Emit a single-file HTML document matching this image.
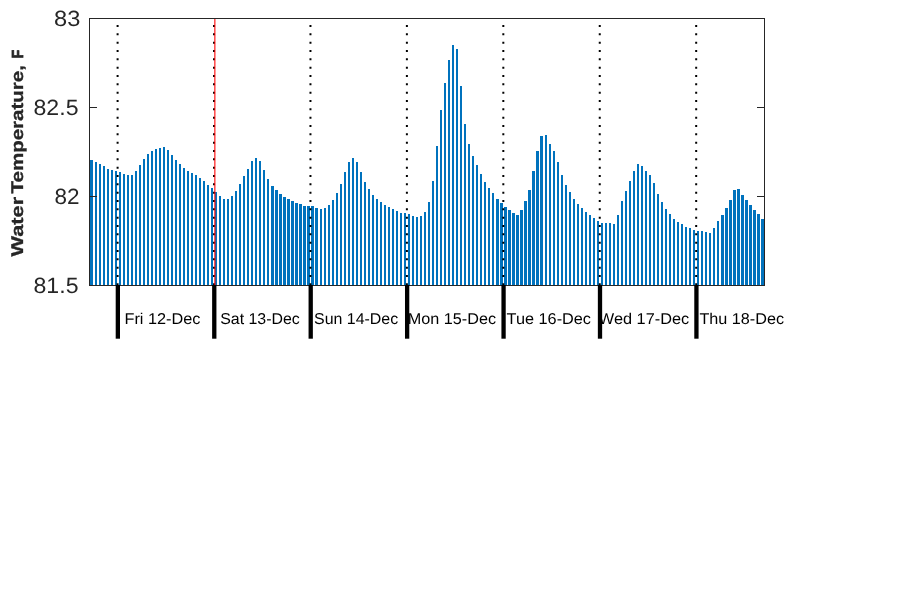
<!DOCTYPE html>
<html><head><meta charset="utf-8"><title>Water Temperature</title>
<style>
html,body{margin:0;padding:0;background:#fff;}
body{width:900px;height:600px;overflow:hidden;font-family:"Liberation Sans",sans-serif;}
svg{display:block;will-change:transform;}
text{font-family:"Liberation Sans",sans-serif;text-rendering:geometricPrecision;}
</style></head>
<body>
<svg width="900" height="600" viewBox="0 0 900 600">
<rect x="0" y="0" width="900" height="600" fill="#ffffff"/>
<g fill="#0072bd" shape-rendering="crispEdges"><rect x="90" y="160" width="3" height="125"/><rect x="95" y="162" width="2" height="123"/><rect x="99" y="164" width="2" height="121"/><rect x="103" y="166" width="2" height="119"/><rect x="107" y="169" width="2" height="116"/><rect x="111" y="170" width="2" height="115"/><rect x="115" y="171" width="2" height="114"/><rect x="119" y="172" width="2" height="113"/><rect x="123" y="174" width="2" height="111"/><rect x="127" y="175" width="2" height="110"/><rect x="131" y="175" width="2" height="110"/><rect x="135" y="171" width="2" height="114"/><rect x="139" y="165" width="2" height="120"/><rect x="143" y="159" width="2" height="126"/><rect x="147" y="154" width="2" height="131"/><rect x="151" y="151" width="2" height="134"/><rect x="155" y="149" width="2" height="136"/><rect x="159" y="148" width="2" height="137"/><rect x="163" y="147" width="2" height="138"/><rect x="167" y="150" width="2" height="135"/><rect x="171" y="155" width="2" height="130"/><rect x="175" y="160" width="2" height="125"/><rect x="179" y="164" width="2" height="121"/><rect x="183" y="168" width="2" height="117"/><rect x="187" y="171" width="2" height="114"/><rect x="191" y="173" width="2" height="112"/><rect x="195" y="175" width="2" height="110"/><rect x="199" y="178" width="2" height="107"/><rect x="203" y="181" width="2" height="104"/><rect x="207" y="185" width="2" height="100"/><rect x="211" y="188" width="2" height="97"/><rect x="215" y="192" width="2" height="93"/><rect x="219" y="196" width="2" height="89"/><rect x="223" y="199" width="2" height="86"/><rect x="227" y="199" width="2" height="86"/><rect x="231" y="196" width="2" height="89"/><rect x="235" y="191" width="2" height="94"/><rect x="239" y="184" width="2" height="101"/><rect x="243" y="176" width="2" height="109"/><rect x="247" y="169" width="2" height="116"/><rect x="251" y="161" width="2" height="124"/><rect x="255" y="158" width="2" height="127"/><rect x="259" y="161" width="2" height="124"/><rect x="263" y="170" width="2" height="115"/><rect x="267" y="179" width="2" height="106"/><rect x="271" y="186" width="3" height="99"/><rect x="275" y="190" width="3" height="95"/><rect x="279" y="194" width="3" height="91"/><rect x="283" y="197" width="3" height="88"/><rect x="287" y="199" width="3" height="86"/><rect x="291" y="201" width="3" height="84"/><rect x="295" y="203" width="3" height="82"/><rect x="299" y="204" width="3" height="81"/><rect x="303" y="206" width="3" height="79"/><rect x="307" y="206" width="3" height="79"/><rect x="311" y="206" width="3" height="79"/><rect x="315" y="208" width="3" height="77"/><rect x="320" y="209" width="2" height="76"/><rect x="324" y="208" width="2" height="77"/><rect x="328" y="205" width="2" height="80"/><rect x="332" y="200" width="2" height="85"/><rect x="336" y="193" width="2" height="92"/><rect x="340" y="184" width="2" height="101"/><rect x="344" y="172" width="2" height="113"/><rect x="348" y="162" width="2" height="123"/><rect x="352" y="158" width="2" height="127"/><rect x="356" y="162" width="2" height="123"/><rect x="360" y="172" width="2" height="113"/><rect x="364" y="182" width="2" height="103"/><rect x="368" y="189" width="2" height="96"/><rect x="372" y="195" width="2" height="90"/><rect x="376" y="199" width="2" height="86"/><rect x="380" y="202" width="2" height="83"/><rect x="384" y="205" width="2" height="80"/><rect x="388" y="207" width="2" height="78"/><rect x="392" y="209" width="2" height="76"/><rect x="396" y="211" width="2" height="74"/><rect x="400" y="213" width="2" height="72"/><rect x="404" y="213" width="2" height="72"/><rect x="408" y="214" width="2" height="71"/><rect x="412" y="216" width="2" height="69"/><rect x="416" y="217" width="2" height="68"/><rect x="420" y="216" width="2" height="69"/><rect x="424" y="212" width="2" height="73"/><rect x="428" y="202" width="2" height="83"/><rect x="432" y="181" width="2" height="104"/><rect x="436" y="146" width="2" height="139"/><rect x="440" y="110" width="2" height="175"/><rect x="444" y="83" width="2" height="202"/><rect x="448" y="60" width="2" height="225"/><rect x="452" y="45" width="2" height="240"/><rect x="456" y="49" width="2" height="236"/><rect x="460" y="86" width="2" height="199"/><rect x="464" y="124" width="2" height="161"/><rect x="468" y="144" width="2" height="141"/><rect x="472" y="156" width="2" height="129"/><rect x="476" y="165" width="2" height="120"/><rect x="480" y="174" width="2" height="111"/><rect x="484" y="182" width="2" height="103"/><rect x="488" y="188" width="2" height="97"/><rect x="492" y="193" width="2" height="92"/><rect x="496" y="199" width="3" height="86"/><rect x="500" y="203" width="3" height="82"/><rect x="504" y="207" width="3" height="78"/><rect x="508" y="210" width="3" height="75"/><rect x="512" y="213" width="3" height="72"/><rect x="516" y="215" width="3" height="70"/><rect x="520" y="210" width="3" height="75"/><rect x="524" y="201" width="3" height="84"/><rect x="528" y="190" width="3" height="95"/><rect x="532" y="171" width="3" height="114"/><rect x="536" y="151" width="3" height="134"/><rect x="540" y="136" width="3" height="149"/><rect x="545" y="135" width="2" height="150"/><rect x="549" y="144" width="2" height="141"/><rect x="553" y="151" width="2" height="134"/><rect x="557" y="162" width="2" height="123"/><rect x="561" y="175" width="2" height="110"/><rect x="565" y="185" width="2" height="100"/><rect x="569" y="192" width="2" height="93"/><rect x="573" y="199" width="2" height="86"/><rect x="577" y="204" width="2" height="81"/><rect x="581" y="208" width="2" height="77"/><rect x="585" y="212" width="2" height="73"/><rect x="589" y="215" width="2" height="70"/><rect x="593" y="218" width="2" height="67"/><rect x="597" y="221" width="2" height="64"/><rect x="601" y="223" width="2" height="62"/><rect x="605" y="223" width="2" height="62"/><rect x="609" y="223" width="2" height="62"/><rect x="613" y="224" width="2" height="61"/><rect x="617" y="215" width="2" height="70"/><rect x="621" y="201" width="2" height="84"/><rect x="625" y="191" width="2" height="94"/><rect x="629" y="181" width="2" height="104"/><rect x="633" y="171" width="2" height="114"/><rect x="637" y="164" width="2" height="121"/><rect x="641" y="166" width="2" height="119"/><rect x="645" y="171" width="2" height="114"/><rect x="649" y="175" width="2" height="110"/><rect x="653" y="183" width="2" height="102"/><rect x="657" y="194" width="2" height="91"/><rect x="661" y="202" width="2" height="83"/><rect x="665" y="209" width="2" height="76"/><rect x="669" y="214" width="2" height="71"/><rect x="673" y="219" width="2" height="66"/><rect x="677" y="222" width="2" height="63"/><rect x="681" y="224" width="2" height="61"/><rect x="685" y="227" width="2" height="58"/><rect x="689" y="228" width="2" height="57"/><rect x="693" y="230" width="2" height="55"/><rect x="697" y="231" width="2" height="54"/><rect x="701" y="231" width="2" height="54"/><rect x="705" y="232" width="2" height="53"/><rect x="709" y="233" width="2" height="52"/><rect x="713" y="228" width="2" height="57"/><rect x="717" y="221" width="2" height="64"/><rect x="721" y="215" width="3" height="70"/><rect x="725" y="208" width="3" height="77"/><rect x="729" y="200" width="3" height="85"/><rect x="733" y="190" width="3" height="95"/><rect x="737" y="189" width="3" height="96"/><rect x="741" y="195" width="3" height="90"/><rect x="745" y="200" width="3" height="85"/><rect x="749" y="205" width="3" height="80"/><rect x="753" y="210" width="3" height="75"/><rect x="757" y="214" width="3" height="71"/><rect x="761" y="219" width="3" height="66"/></g>
<g stroke="#000" stroke-width="2" stroke-dasharray="2 6.3333" stroke-dashoffset="-6.5" fill="none"><line x1="117.60" y1="18.5" x2="117.60" y2="285.5"/><line x1="214.03" y1="18.5" x2="214.03" y2="285.5"/><line x1="310.46" y1="18.5" x2="310.46" y2="285.5"/><line x1="406.89" y1="18.5" x2="406.89" y2="285.5"/><line x1="503.32" y1="18.5" x2="503.32" y2="285.5"/><line x1="599.75" y1="18.5" x2="599.75" y2="285.5"/><line x1="696.18" y1="18.5" x2="696.18" y2="285.5"/></g>
<line x1="214.87" y1="18.5" x2="214.87" y2="285.5" stroke="#ff0000" stroke-width="1.08"/>
<g stroke="#262626" stroke-width="1" fill="none" shape-rendering="crispEdges">
<rect x="89.5" y="18.5" width="675" height="267"/>
<line x1="89.5" y1="107.5" x2="96.8" y2="107.5"/><line x1="757.2" y1="107.5" x2="764.5" y2="107.5"/><line x1="89.5" y1="196.5" x2="96.8" y2="196.5"/><line x1="757.2" y1="196.5" x2="764.5" y2="196.5"/>
</g>
<g fill="#000"><rect x="115.70" y="285" width="4.3" height="53.7"/><rect x="212.13" y="285" width="4.3" height="53.7"/><rect x="308.56" y="285" width="4.3" height="53.7"/><rect x="404.99" y="285" width="4.3" height="53.7"/><rect x="501.42" y="285" width="4.3" height="53.7"/><rect x="597.85" y="285" width="4.3" height="53.7"/><rect x="694.28" y="285" width="4.3" height="53.7"/></g>
<g fill="#000" font-size="15.7px"><text x="124.50" y="323.7" textLength="76.00" lengthAdjust="spacingAndGlyphs">Fri 12-Dec</text><text x="220.20" y="323.7" textLength="79.60" lengthAdjust="spacingAndGlyphs">Sat 13-Dec</text><text x="314.00" y="323.7" textLength="84.20" lengthAdjust="spacingAndGlyphs">Sun 14-Dec</text><text x="407.80" y="323.7" textLength="88.20" lengthAdjust="spacingAndGlyphs">Mon 15-Dec</text><text x="506.60" y="323.7" textLength="84.40" lengthAdjust="spacingAndGlyphs">Tue 16-Dec</text><text x="598.80" y="323.7" textLength="90.40" lengthAdjust="spacingAndGlyphs">Wed 17-Dec</text><text x="699.40" y="323.7" textLength="84.60" lengthAdjust="spacingAndGlyphs">Thu 18-Dec</text></g>
<g fill="#262626" font-size="22.1px"><text x="54.10" y="26.2" textLength="26.30" lengthAdjust="spacingAndGlyphs">83</text><text x="33.50" y="115.2" textLength="45.00" lengthAdjust="spacingAndGlyphs">82.5</text><text x="54.50" y="204.2" textLength="25.00" lengthAdjust="spacingAndGlyphs">82</text><text x="33.50" y="293.2" textLength="45.00" lengthAdjust="spacingAndGlyphs">81.5</text></g>
<g font-size="17px" font-weight="bold" fill="#262626" stroke="#262626" stroke-width="0.3"><text transform="translate(23.2,256.5) rotate(-90)" x="0" y="0" textLength="59.6" lengthAdjust="spacingAndGlyphs">Water</text><text transform="translate(23.2,193.5) rotate(-90)" x="0" y="0" textLength="128.4" lengthAdjust="spacingAndGlyphs">Temperature,</text><text transform="translate(22.8,58.35) rotate(-90)" x="0" y="0" font-size="16px" stroke-width="0.8" textLength="8.3" lengthAdjust="spacingAndGlyphs">F</text></g>
</svg>
</body></html>
